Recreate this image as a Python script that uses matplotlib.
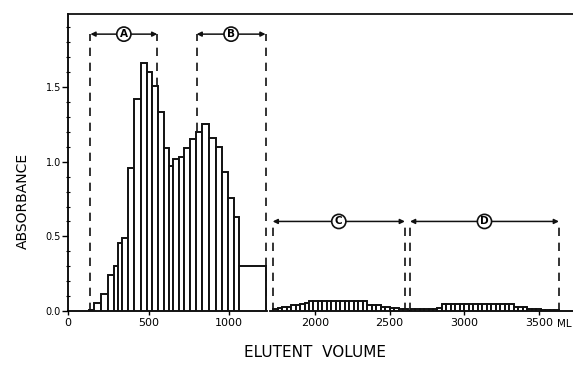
import numpy as np
import matplotlib.pyplot as plt
from matplotlib.lines import Line2D

# fraction edges (ml) and absorbance, first part of the run
edges_1 = [130, 163, 205, 246, 288, 312, 337, 370, 412, 453, 488, 519, 560, 595,
           625, 651, 686, 717, 754, 796, 831, 874, 916, 955, 992, 1029, 1060, 1226]
abs_1 = [0.005, 0.056, 0.116, 0.24, 0.30, 0.455, 0.49, 0.96, 1.42, 1.66, 1.60, 1.51,
         1.33, 1.09, 0.97, 1.02, 1.03, 1.09, 1.15, 1.20, 1.25, 1.16, 1.10, 0.93,
         0.76, 0.63, 0.30]

# second part: 30 ml fractions
start_c = 1720
abs_c = [0.01, 0.02, 0.03, 0.03, 0.04, 0.04, 0.05, 0.055] + [0.065] * 13 + \
        [0.038] * 3 + [0.03] * 2 + [0.022] * 2 + [0.011] * 2
start_d = 2640
abs_d = [0.01] * 6 + [0.02] + [0.047] * 16 + [0.03] * 3 + [0.016] * 3 + [0.009] * 4
frac_w = 30

# pooled regions: (label, start, end, arrow height)
pools = [('A', 139, 554, 1.855), ('B', 798, 1226, 1.855),
         ('C', 1717, 2602, 0.60), ('D', 2636, 3633, 0.60)]

fig = plt.figure(figsize=(5.73, 3.66), dpi=100)
ax1 = fig.add_axes([0.1187, 0.1503, 0.3473, 0.8115])
ax2 = fig.add_axes([0.4712, 0.1503, 0.5288, 0.8115], sharey=ax1)

lw = 1.4
ec = '#111111'

left_1 = np.array(edges_1[:-1])
width_1 = np.diff(edges_1)
ax1.bar(left_1, abs_1, width=width_1, align='edge', color='white', edgecolor=ec,
        linewidth=lw, zorder=3)
left_c = start_c + frac_w * np.arange(len(abs_c))
ax2.bar(left_c, abs_c, width=frac_w, align='edge', color='white', edgecolor=ec,
        linewidth=lw, zorder=3)
left_d = start_d + frac_w * np.arange(len(abs_d))
ax2.bar(left_d, abs_d, width=frac_w, align='edge', color='white', edgecolor=ec,
        linewidth=lw, zorder=3)

for name, x0, x1, yh in pools:
    ax = ax1 if x1 < 1500 else ax2
    ax.vlines([x0, x1], 0, yh, colors=ec, linestyles=(0, (5, 4)), linewidth=1.2, zorder=1)
    ax.annotate('', xy=(x1, yh), xytext=(x0, yh),
                arrowprops=dict(arrowstyle='<|-|>', color=ec, lw=1.1,
                                mutation_scale=7, shrinkA=0, shrinkB=0), zorder=2)
    ax.text((x0 + x1) / 2, yh, name, ha='center', va='center', fontsize=7.5,
            fontweight='bold', zorder=4,
            bbox=dict(boxstyle='circle,pad=0.2', fc='white', ec=ec, lw=1.2))

ax1.set_xlim(0, 1235)
ax2.set_xlim(1699, 3727)
ax1.set_ylim(0, 1.99)

ax1.set_xticks([0, 500, 1000])
ax2.set_xticks([2000, 2500, 3000, 3500])
ax1.set_yticks([0, 0.5, 1.0, 1.5])
ax1.set_yticklabels(['0.0', '0.5', '1.0', '1.5'])
ax1.set_yticks(np.arange(0, 1.95, 0.1), minor=True)

for ax in (ax1, ax2):
    for s in ['top', 'right']:
        ax.spines[s].set_visible(False)
    ax.spines['bottom'].set_linewidth(1.3)
    ax.tick_params(axis='x', direction='out', length=3, width=1, labelsize=8, pad=2)
ax2.spines['left'].set_visible(False)
ax2.tick_params(axis='y', left=False, labelleft=False, which='both')
ax1.spines['left'].set_linewidth(1.3)
ax1.tick_params(axis='y', which='major', direction='out', length=4, width=1,
                labelsize=7, pad=1)
ax1.tick_params(axis='y', which='minor', direction='inout', length=3, width=0.8)

# top frame line across the whole plot
fig.add_artist(Line2D([0.1187, 1.0], [0.9618, 0.9618], color=ec, lw=1.3))

ax2.text(3622, -0.085, 'ML', fontsize=7.5, ha='left', va='center')
fig.text(0.04, 0.45, 'ABSORBANCE', rotation=90, ha='center', va='center', fontsize=10)
fig.text(0.55, 0.038, 'ELUTENT  VOLUME', ha='center', va='center', fontsize=11)

fig.savefig('out.png', dpi=100)
